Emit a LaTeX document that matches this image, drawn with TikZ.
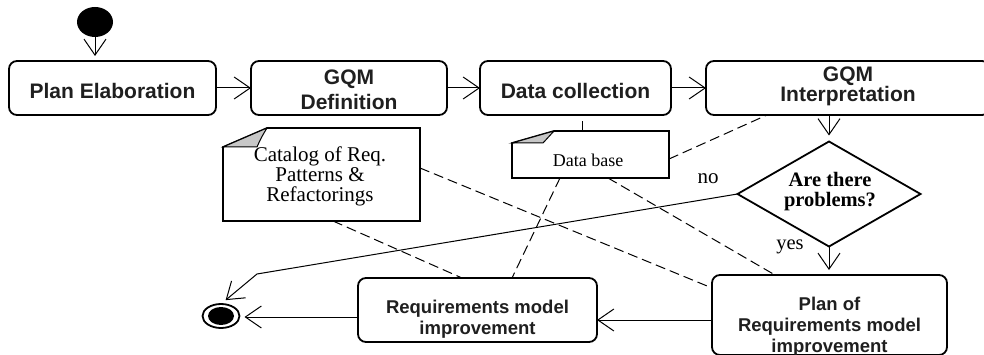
\documentclass[tikz,border=0pt]{standalone}
\usepackage{fontspec}
\setmainfont{Liberation Serif}
\setsansfont{Liberation Sans}
\usetikzlibrary{arrows.meta,shapes.geometric}
\begin{document}
\begin{tikzpicture}[x=1pt,y=-1pt,
  actbox/.style={draw, line width=1.8pt, rounded corners=8pt, inner sep=0pt, outer sep=0pt},
  bigtxt/.style={font=\sffamily\bfseries\fontsize{21}{25}\selectfont, align=center, inner sep=0pt, text=black!88},
  smalltxt/.style={font=\sffamily\bfseries\fontsize{18.5}{21}\selectfont, align=center, inner sep=0pt, text=black!88},
  notebox/.style={inner sep=0pt, outer sep=0pt},
  noteline/.style={line width=1.6pt, fill=white},
  flap/.style={line width=1pt, fill=black!22},
  notetxt/.style={font=\fontsize{21}{20}\selectfont, align=center, inner sep=0pt},
  flow/.style={line width=1pt, -{Straight Barb[length=16pt,width=22pt]}},
  dep/.style={line width=1pt, dash pattern=on 10pt off 5pt},
  lbl/.style={anchor=base, inner sep=0pt, font=\fontsize{21}{21}\selectfont}
]
\useasboundingbox (0,0) rectangle (984,355);
\fill[white] (0,0) rectangle (984,355);

% start
\node[ellipse, fill=black, minimum width=36pt, minimum height=30pt, inner sep=0pt, outer sep=0pt] (start) at (95,22) {};

% top row
\node[actbox, minimum width=207pt, minimum height=54pt] (plan) at (112.5,88) {};
\node[bigtxt] (planT) at (112.5,90.5) {Plan Elaboration};
\node[actbox, minimum width=196pt, minimum height=54pt] (gdef) at (349,88) {};
\node[bigtxt] (gdefT) at (349,90) {GQM\\Definition};
\node[actbox, minimum width=191pt, minimum height=54pt] (dcol) at (575.5,88) {};
\node[bigtxt] (dcolT) at (575.5,90.5) {Data collection};
\node[actbox, minimum width=284pt, minimum height=54pt] (gint) at (848,88) {};
\node[bigtxt, font=\sffamily\bfseries\fontsize{21}{20}\selectfont] (gintT) at (848,86.7) {GQM\\Interpretation};

% notes
\node[notebox, minimum width=197pt, minimum height=93pt] (cat) at (321.5,174.5) {};
\draw[noteline] ([yshift=-19pt]cat.north west) -- ([xshift=44pt]cat.north west) -- (cat.north east) -- (cat.south east) -- (cat.south west) -- cycle;
\filldraw[flap] ([yshift=-19pt]cat.north west) -- ([xshift=44pt]cat.north west) .. controls ([xshift=38pt,yshift=-10pt]cat.north west) .. ([xshift=34pt,yshift=-19pt]cat.north west) -- cycle;
\node[notetxt] (catT) at (320,176.6) {Catalog of Req.\\Patterns \&\\Refactorings};

\node[notebox, minimum width=157pt, minimum height=47pt] (db) at (590.5,154.5) {};
\draw[noteline] ([yshift=-12pt]db.north west) -- ([xshift=42pt]db.north west) -- (db.north east) -- (db.south east) -- (db.south west) -- cycle;
\filldraw[flap] ([yshift=-12pt]db.north west) -- ([xshift=42pt]db.north west) .. controls ([xshift=36pt,yshift=-6pt]db.north west) .. ([xshift=31pt,yshift=-12pt]db.north west) -- cycle;
\node[notetxt, font=\fontsize{18}{20}\selectfont] (dbT) at (588,160.5) {Data base};

% decision
\node[diamond, draw, line width=1.8pt, minimum width=183pt, minimum height=105pt, inner sep=0pt, outer sep=0pt] (dia) at (829,194) {};
\node[font=\bfseries\fontsize{20.5}{20}\selectfont, align=center, inner sep=0pt] (diaT) at (830,192) {Are there\\problems?};

% bottom row
\node[actbox, minimum width=235pt, minimum height=80pt] (preq) at (829.5,315) {};
\node[smalltxt] (preqT) at (829.5,326.5) {Plan of\\Requirements model\\improvement};
\node[actbox, minimum width=239pt, minimum height=64pt] (rimp) at (477.5,310) {};
\node[smalltxt] (rimpT) at (477.5,319) {Requirements model\\improvement};

% end
\node[ellipse, draw, line width=1.8pt, minimum width=37pt, minimum height=24pt, inner sep=0pt, outer sep=0pt] (end) at (221,316) {};
\node[ellipse, fill=black, minimum width=26pt, minimum height=18pt, inner sep=0pt] (endin) at (221,316) {};

% labels
\node[lbl] (no) at (708,184) {no};
\node[lbl, font=\fontsize{20.5}{21}\selectfont] (yes) at (790,250) {yes};

% control flow
\draw[flow, shorten >=5pt] (start) -- (start |- plan.north);
\draw[flow] (plan) -- (gdef);
\draw[flow] (gdef) -- (dcol);
\draw[flow] (dcol) -- (gint);
\draw[flow, shorten >=6pt] (gint.south -| dia.north) -- (dia.north);
\draw[flow, shorten >=5pt] (dia.south) -- (dia.south |- preq.north);
\draw[flow] ([yshift=-5pt]preq.west) -- ([yshift=-5pt]preq.west -| rimp.east);
\draw[flow, shorten >=5pt] ([yshift=-7pt]rimp.west) -- ([yshift=-7pt]rimp.west -| end.east);
\coordinate (nobend) at (257,274);
\draw[flow, shorten >=6pt] (dia.west) -- (nobend) -- (end.north);

% object flow (dashed)
\draw[dep] ([xshift=-8.5pt]db.north) -- ([xshift=-8.5pt]db.north |- dcol.south);
\draw[dep] ([yshift=-4.5pt]db.east) -- ([xshift=-81pt]gint.south);
\draw[dep] ([yshift=6.5pt]cat.east) -- ([yshift=27pt]preq.west);
\draw[dep] ([xshift=11.5pt]cat.south) -- ([xshift=-15.5pt]rimp.north);
\draw[dep] ([xshift=-30.5pt]db.south) -- ([xshift=34.5pt]rimp.north);
\draw[dep] ([xshift=17.5pt]db.south) -- ([xshift=-54.5pt]preq.north);
\end{tikzpicture}
\end{document}
